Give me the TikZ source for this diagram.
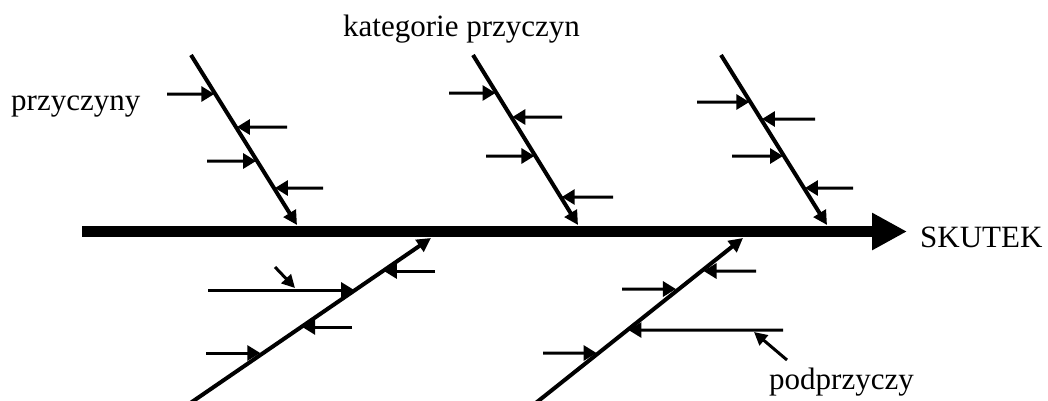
\documentclass[tikz,border=0pt]{standalone}
\usepackage{fontspec}
\setmainfont{Liberation Serif}
\usetikzlibrary{arrows.meta,calc}
\begin{document}
\begin{tikzpicture}[x=1pt,y=-1pt,
  spine/.style={line width=11pt,-{Triangle[length=35pt,width=35pt]}},
  bone/.style={line width=4pt,-{Triangle[length=14pt,width=14pt]}},
  cause/.style={line width=3pt,-{Triangle[length=13pt,width=15pt]}},
  subcause/.style={line width=3pt,-{Triangle[length=13pt,width=13pt]}},
  lbl/.style={inner sep=0pt,anchor=base west,font=\fontsize{31}{36}\selectfont}]
\useasboundingbox (0,0) rectangle (1048,400);
\clip (0,0) rectangle (1048,400);
% spine
\coordinate (s0) at (82,231.5);
\coordinate (s1) at (907,231.5);
\draw[spine] (s0) -- (s1);
% upper bones
\coordinate (t1) at (191,55);  \coordinate (e1) at (297,225);
\coordinate (t2) at (473,55);  \coordinate (e2) at (578,225);
\coordinate (t3) at (721,55);  \coordinate (e3) at (827,225);
% lower bones
\coordinate (t4) at (186,406); \coordinate (e4) at (431,238);
\coordinate (t5) at (532,406); \coordinate (e5) at (743,238);
\foreach \b in {1,...,5}{\draw[bone] (t\b) -- (e\b);}
% causes
\foreach \b/\y/\sx/\d in {
  1/94/167/-1, 1/127/287/1, 1/161/207/-1, 1/188/323/1,
  2/93/449/-1, 2/117/562/1, 2/156/486/-1, 2/197/613/1,
  3/102/697/-1, 3/119/815/1, 3/156/732/-1, 3/188/853/1,
  4/271/435/1, 4/290/208/-1, 4/327/352/1, 4/353/206/-3,
  5/271/756/2, 5/289/622/-3, 5/330/783/1, 5/353/543/-2}{
  \coordinate (p) at (intersection cs: first line={(t\b)--(e\b)}, second line={(0,\y)--(1,\y)});
  \coordinate (q) at (\sx,\y);
  \draw[cause] (q) -- ([xshift=\d pt]p);
}
% sub-causes
\coordinate (u4) at (275,267); \coordinate (v4) at (295,288);
\draw[subcause] (u4) -- (v4);
\coordinate (u5) at (787,360); \coordinate (v5) at (754,332);
\draw[subcause] (u5) -- (v5);
% labels
\node[lbl] (przyczyny) at (11,110) {przyczyny};
\node[lbl] (kategorie) at (343,36) {kategorie przyczyn};
\node[lbl] (skutek) at (920,247) {SKUTEK};
\node[lbl] (podprzyczy) at (769,389) {podprzyczy};
\end{tikzpicture}
\end{document}
